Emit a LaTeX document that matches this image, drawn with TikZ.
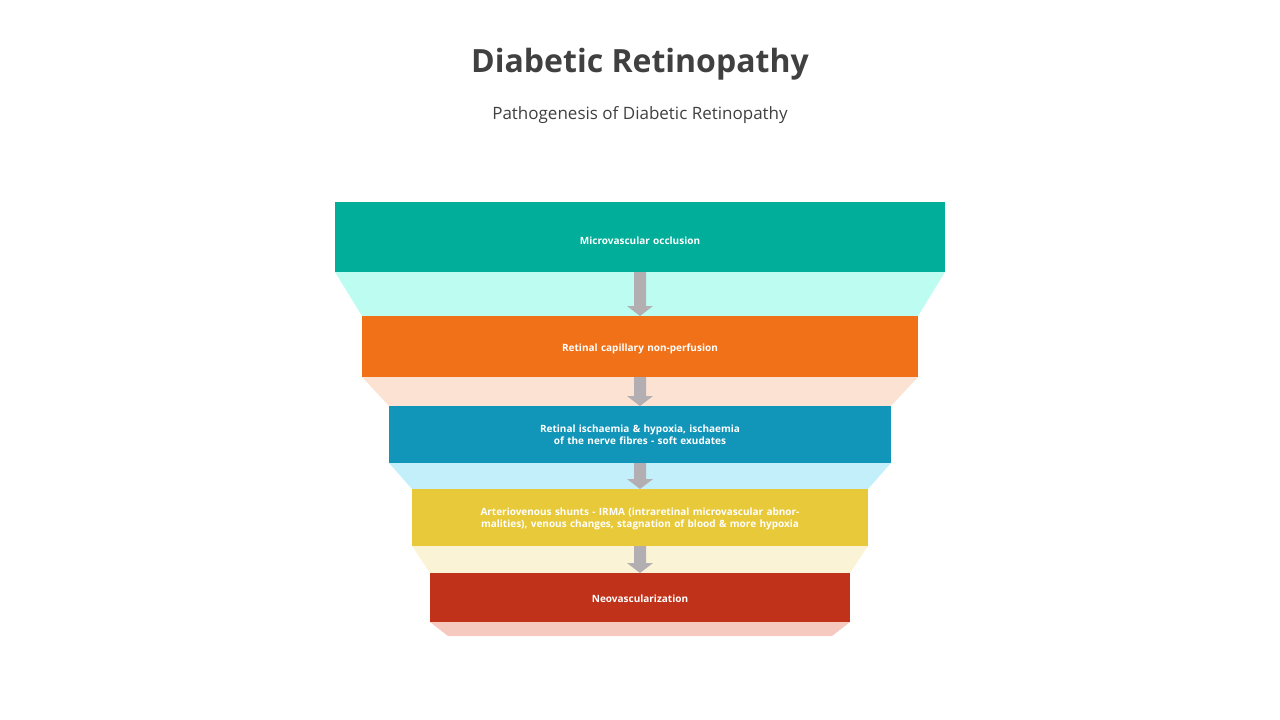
\documentclass[tikz,border=0pt]{standalone}
\usepackage{fontspec}
\setmainfont{Open Sans}
\usetikzlibrary{shapes.arrows}
\definecolor{tc}{HTML}{404040}
\definecolor{c1}{HTML}{00AE99}\definecolor{l1}{HTML}{BDFDF1}
\definecolor{c2}{HTML}{F07118}\definecolor{l2}{HTML}{FBE2D2}
\definecolor{c3}{HTML}{1196BA}\definecolor{l3}{HTML}{C3EFFB}
\definecolor{c4}{HTML}{E8C93A}\definecolor{l4}{HTML}{FAF3D6}
\definecolor{c5}{HTML}{C0321A}\definecolor{l5}{HTML}{F6C9C0}
\definecolor{ar}{HTML}{B3AEB2}
\tikzset{lbl/.style={text=white,font=\bfseries\fontsize{10}{12}\selectfont,align=center,text width=#1},
arr/.style={fill=ar,draw=none}}
\begin{document}
\begin{tikzpicture}[x=1pt,y=-1pt]
\useasboundingbox (0,0) rectangle (1280,720);
\node[text=tc,font=\bfseries\fontsize{32}{38}\selectfont] (t) at (640,64) {Diabetic Retinopathy};
\node[text=tc,font=\fontsize{17}{20}\selectfont] (s) at (640,115) {Pathogenesis of Diabetic Retinopathy};
% trapezoids
\fill[l1] (335,272) -- (945,272) -- (918,316) -- (362,316) -- cycle;
\fill[l2] (362,377) -- (918,377) -- (891,406) -- (389,406) -- cycle;
\fill[l3] (389,463) -- (891,463) -- (868,489) -- (412,489) -- cycle;
\fill[l4] (412,546) -- (868,546) -- (850,573) -- (430,573) -- cycle;
\fill[l5] (430,622) -- (850,622) -- (832,636) -- (448,636) -- cycle;
% boxes
\fill[c1] (335,202) rectangle (945,272);
\fill[c2] (362,316) rectangle (918,377);
\fill[c3] (389,406) rectangle (891,463);
\fill[c4] (412,489) rectangle (868,546);
\fill[c5] (430,573) rectangle (850,622);
% arrows
\foreach \a/\b in {272/316,377/406,463/489,546/573}{
 \fill[ar] (634,\a) -- (646,\a) -- (646,\b-10) -- (653,\b-10) -- (640,\b) -- (627,\b-10) -- (634,\b-10) -- cycle;}
\node[lbl=300pt] (n1) at (640,241) {Microvascular occlusion};
\node[lbl=300pt] (n2) at (640,349) {Retinal capillary non-perfusion};
\node[lbl=360pt] (n3) at (640,435) {Retinal ischaemia \& hypoxia, ischaemia of the nerve fibres - soft exudates};
\node[lbl=390pt] (n4) at (640,519) {Arteriovenous shunts - IRMA (intraretinal microvascular abnormalities), venous changes, stagnation of blood \& more hypoxia};
\node[lbl=300pt] (n5) at (640,599) {Neovascularization};
\end{tikzpicture}
\end{document}
